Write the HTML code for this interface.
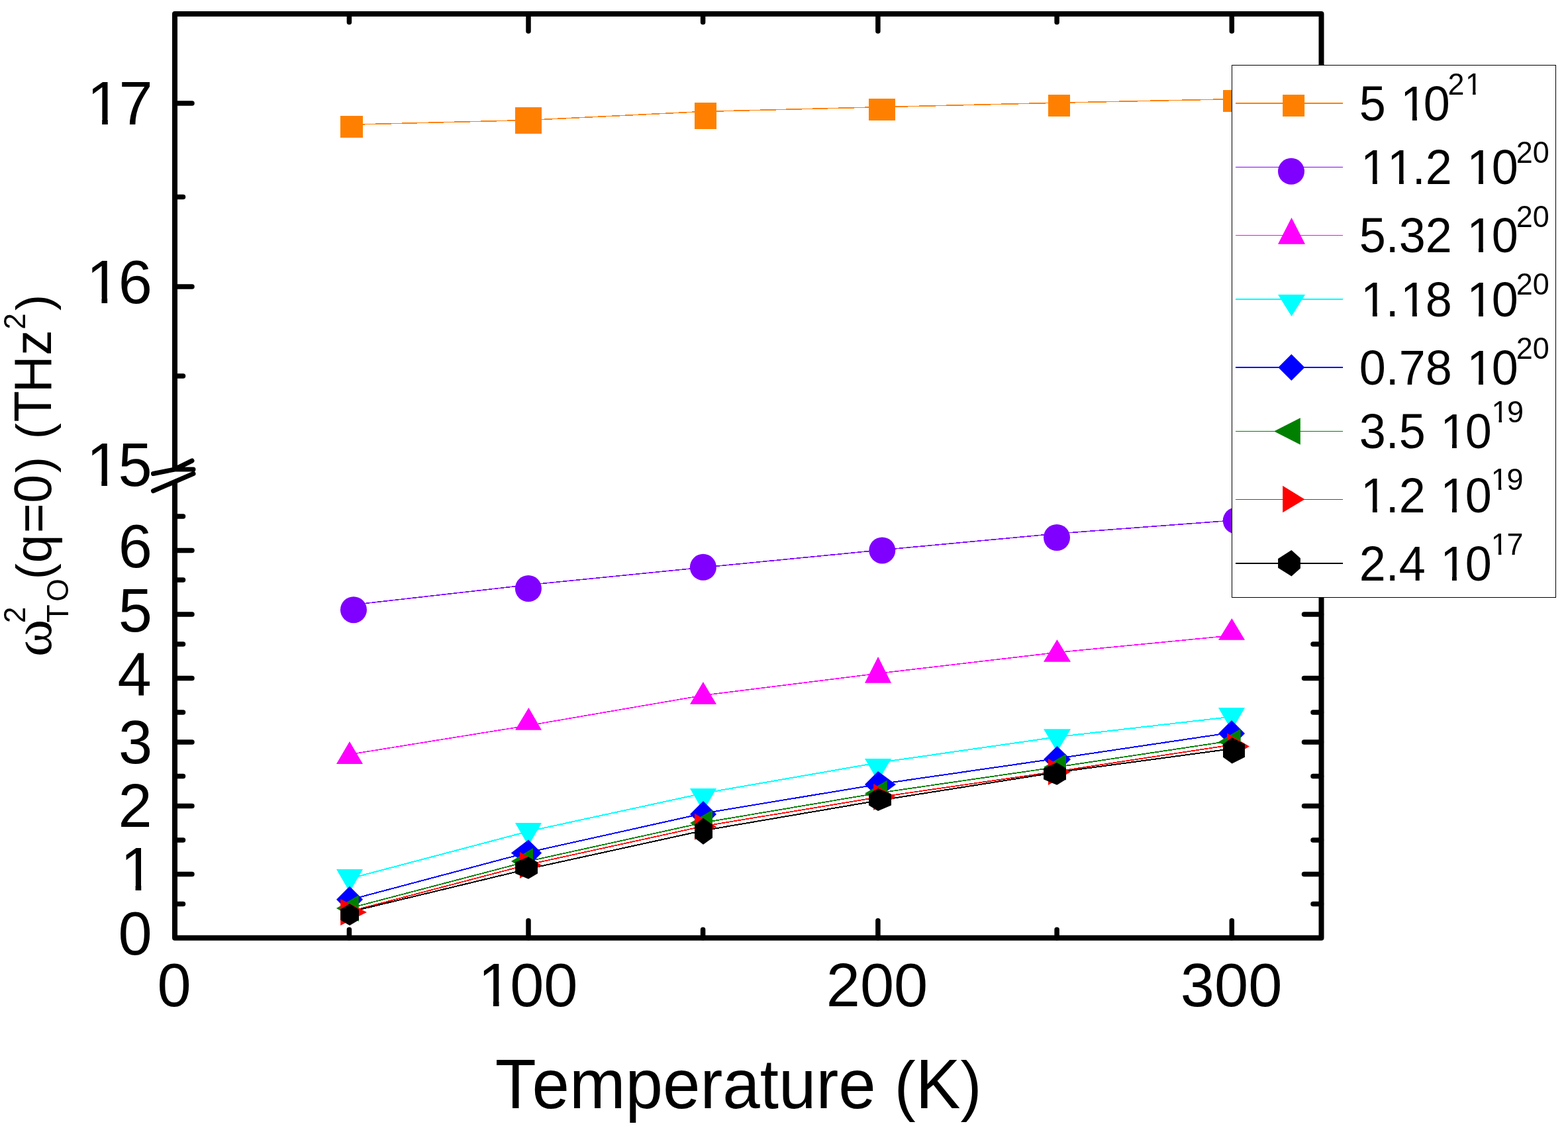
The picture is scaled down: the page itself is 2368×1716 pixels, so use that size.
<!DOCTYPE html>
<html><head><meta charset="utf-8"><title>chart</title>
<style>html,body{margin:0;padding:0;background:#fff;}svg{display:block;}</style>
</head><body>
<svg width="2368" height="1716" viewBox="0 0 2368 1716">
<rect width="2368" height="1716" fill="#fff"/>
<g shape-rendering="crispEdges">
<polyline points="527.4,188.3 798.0,181.5 1061.6,168.5 1325.9,161.8 1596.1,155.3 1860.3,149.7" fill="none" stroke="#FF8000" stroke-width="1.6" stroke-linejoin="round"/>
<polyline points="527.4,914.2 798.0,883.5 1061.6,857.2 1325.9,831.3 1596.1,806.1 1860.3,786.2" fill="none" stroke="#8000FF" stroke-width="1.6" stroke-linejoin="round"/>
<polyline points="527.4,1139.7 798.0,1095.9 1061.6,1050.4 1325.9,1017.3 1596.1,985.6 1860.3,960.0" fill="none" stroke="#FF00FF" stroke-width="1.6" stroke-linejoin="round"/>
<polyline points="528.0,1327.2 798.0,1255.8 1062.0,1198.3 1326.0,1152.1 1596.5,1113.2 1860.0,1082.7" fill="none" stroke="#00FFFF" stroke-width="2.0" stroke-linejoin="round"/>
<polyline points="528.0,1359.3 798.0,1287.5 1062.0,1228.7 1326.0,1184.8 1596.5,1145.7 1860.0,1106.6" fill="none" stroke="#0000FF" stroke-width="2.0" stroke-linejoin="round"/>
<polyline points="528.0,1371.9 798.0,1300.9 1062.0,1242.7 1326.0,1198.0 1596.0,1158.7 1860.0,1119.0" fill="none" stroke="#008000" stroke-width="1.8" stroke-linejoin="round"/>
<polyline points="528.0,1376.8 798.0,1305.9 1062.0,1248.1 1326.0,1204.3 1596.0,1165.3 1860.0,1125.2" fill="none" stroke="#FF0000" stroke-width="1.8" stroke-linejoin="round"/>
<polyline points="528.0,1377.6 798.0,1312.5 1062.0,1254.6 1326.0,1209.4 1596.2,1166.6 1860.6,1131.0" fill="none" stroke="#000000" stroke-width="2.0" stroke-linejoin="round"/>
</g>
<rect x="514.0" y="175.0" width="34.0" height="33.0" fill="#FF8000"/>
<rect x="778.0" y="162.0" width="40.0" height="40.0" fill="#FF8000"/>
<rect x="1049.0" y="155.0" width="33.0" height="40.0" fill="#FF8000"/>
<rect x="1312.0" y="149.0" width="40.0" height="33.0" fill="#FF8000"/>
<rect x="1583.0" y="143.0" width="33.0" height="33.0" fill="#FF8000"/>
<rect x="1847.0" y="136.0" width="33.0" height="33.0" fill="#FF8000"/>
<circle cx="534.0" cy="921.2" r="20" fill="#8000FF"/>
<circle cx="797.9" cy="889.0" r="20" fill="#8000FF"/>
<circle cx="1061.9" cy="856.8" r="20" fill="#8000FF"/>
<circle cx="1332.3" cy="831.4" r="20" fill="#8000FF"/>
<circle cx="1596.0" cy="812.0" r="20" fill="#8000FF"/>
<circle cx="1866.8" cy="786.5" r="20" fill="#8000FF"/>
<polygon points="527.9,1119.9 548.0,1154.0 508.0,1154.0" fill="#FF00FF"/>
<polygon points="798.4,1068.9 818.0,1102.7 778.0,1102.7" fill="#FF00FF"/>
<polygon points="1061.9,1029.9 1082.0,1063.7 1042.0,1063.7" fill="#FF00FF"/>
<polygon points="1326.1,992.0 1346.0,1031.7 1306.0,1031.7" fill="#FF00FF"/>
<polygon points="1596.4,966.0 1617.0,999.8 1576.0,999.8" fill="#FF00FF"/>
<polygon points="1860.3,933.9 1880.0,966.8 1840.0,966.8" fill="#FF00FF"/>
<polygon points="508.0,1313.0 548.0,1313.0 528.0,1347.6" fill="#00FFFF"/>
<polygon points="778.0,1243.0 818.0,1243.0 798.0,1277.6" fill="#00FFFF"/>
<polygon points="1042.0,1191.1 1082.0,1191.1 1062.0,1225.7" fill="#00FFFF"/>
<polygon points="1306.0,1146.0 1346.0,1146.0 1326.0,1180.6" fill="#00FFFF"/>
<polygon points="1576.0,1101.2 1617.0,1101.2 1596.5,1135.8" fill="#00FFFF"/>
<polygon points="1840.0,1069.1 1880.0,1069.1 1860.0,1103.7" fill="#00FFFF"/>
<polygon points="528.0,1338.7 548.0,1358.7 528.0,1378.7 508.0,1358.7" fill="#0000FF"/>
<polygon points="798.0,1268.5 818.1,1288.5 798.0,1308.5 771.8,1288.5" fill="#0000FF"/>
<polygon points="1062.0,1210.0 1082.0,1230.0 1062.0,1250.0 1042.0,1230.0" fill="#0000FF"/>
<polygon points="1326.0,1165.0 1353.0,1185.0 1326.0,1205.0 1306.0,1185.0" fill="#0000FF"/>
<polygon points="1596.5,1127.0 1617.0,1147.0 1596.5,1167.0 1576.0,1147.0" fill="#0000FF"/>
<polygon points="1860.0,1088.0 1880.0,1108.0 1860.0,1128.0 1840.0,1108.0" fill="#0000FF"/>
<polygon points="508.0,1372.0 541.8,1352.0 541.8,1392.0" fill="#008000"/>
<polygon points="772.0,1301.0 805.0,1281.0 805.0,1321.0" fill="#008000"/>
<polygon points="1042.0,1243.3 1076.0,1223.3 1076.0,1263.3" fill="#008000"/>
<polygon points="1306.0,1198.4 1339.8,1178.4 1339.8,1218.4" fill="#008000"/>
<polygon points="1576.0,1158.8 1610.0,1138.8 1610.0,1178.8" fill="#008000"/>
<polygon points="1840.0,1120.8 1873.7,1100.8 1873.7,1140.8" fill="#008000"/>
<polygon points="514.2,1358.0 554.0,1378.0 514.2,1398.0" fill="#FF0000"/>
<polygon points="785.0,1287.0 818.0,1307.0 785.0,1327.0" fill="#FF0000"/>
<polygon points="1049.0,1228.8 1082.0,1248.8 1049.0,1268.8" fill="#FF0000"/>
<polygon points="1319.2,1183.9 1352.8,1203.9 1319.2,1223.9" fill="#FF0000"/>
<polygon points="1583.0,1146.1 1617.0,1166.1 1583.0,1186.1" fill="#FF0000"/>
<polygon points="1853.1,1107.4 1886.9,1127.4 1853.1,1147.4" fill="#FF0000"/>
<polygon points="528.0,1365.2 542.0,1373.4 542.0,1389.8 528.0,1398.0 514.2,1389.8 514.2,1373.4" fill="#000000"/>
<polygon points="798.0,1294.2 812.0,1302.6 812.0,1319.4 798.0,1327.8 778.1,1319.4 778.1,1302.6" fill="#000000"/>
<polygon points="1062.0,1235.8 1076.0,1245.8 1076.0,1265.7 1062.0,1275.7 1049.0,1265.7 1049.0,1245.8" fill="#000000"/>
<polygon points="1326.0,1191.0 1346.0,1199.5 1346.0,1216.5 1326.0,1225.0 1312.0,1216.5 1312.0,1199.5" fill="#000000"/>
<polygon points="1596.2,1151.9 1610.0,1160.4 1610.0,1177.3 1596.2,1185.8 1576.0,1177.3 1576.0,1160.4" fill="#000000"/>
<polygon points="1860.6,1114.2 1880.0,1124.1 1880.0,1143.8 1860.6,1153.6 1847.0,1143.8 1847.0,1124.1" fill="#000000"/>
<path d="M264.0 156.0 H290.0 M264.0 297.5 H276.5 M264.0 433.0 H290.0 M264.0 568.0 H276.5 M264.0 1365.4 H276.5 M264.0 1320.4 H290.0 M264.0 1269.0 H276.5 M264.0 1217.5 H290.0 M264.0 1172.4 H276.5 M264.0 1121.0 H290.0 M264.0 1076.0 H276.5 M264.0 1024.4 H290.0 M264.0 973.0 H276.5 M264.0 928.0 H290.0 M264.0 876.0 H276.5 M264.0 831.5 H290.0 M264.0 780.0 H276.5 M1995.5 1365.4 H1983.0 M1995.5 1320.4 H1969.5 M1995.5 1269.0 H1983.0 M1995.5 1217.5 H1969.5 M1995.5 1172.4 H1983.0 M1995.5 1121.0 H1969.5 M1995.5 1076.0 H1983.0 M1995.5 1024.4 H1969.5 M1995.5 973.0 H1983.0 M1995.5 928.0 H1969.5 M527.4 21.0 V33.5 M527.4 1416.7 V1404.2 M798.0 21.0 V47.0 M798.0 1416.7 V1390.7 M1061.6 21.0 V33.5 M1061.6 1416.7 V1404.2 M1325.9 21.0 V47.0 M1325.9 1416.7 V1390.7 M1596.1 21.0 V33.5 M1596.1 1416.7 V1404.2 M1860.3 21.0 V47.0 M1860.3 1416.7 V1390.7" stroke="#000" stroke-width="7.5" stroke-linecap="round" fill="none"/>
<path d="M264.0 21.0 H1995.5 V1416.7 H264.0 Z" stroke="#000" stroke-width="8" fill="none" stroke-linejoin="round"/>
<polygon points="228,716 264,709 295,709 295,716 228,744" fill="#fff"/>
<polygon points="259,709 269,709 269,722 259,727" fill="#fff"/>
<path d="M231.5 715.5 L264 709 L292 709 M264.5 708.5 L290 696 M231.5 741.5 L292 715.5" stroke="#000" stroke-width="7" stroke-linecap="round" stroke-linejoin="round" fill="none"/>
<rect x="1860.5" y="98.5" width="489" height="804" fill="#fff" stroke="#000" stroke-width="1" shape-rendering="crispEdges"/>
<path d="M1866 156.0 H2028" stroke="#FF8000" stroke-width="2" shape-rendering="crispEdges"/>
<path d="M1866 252.5 H2028" stroke="#8000FF" stroke-width="1" shape-rendering="crispEdges"/>
<path d="M1866 355.5 H2028" stroke="#FF00FF" stroke-width="1" shape-rendering="crispEdges"/>
<path d="M1866 452.0 H2028" stroke="#00FFFF" stroke-width="2" shape-rendering="crispEdges"/>
<path d="M1866 555.0 H2028" stroke="#0000FF" stroke-width="2" shape-rendering="crispEdges"/>
<path d="M1866 651.5 H2028" stroke="#008000" stroke-width="1" shape-rendering="crispEdges"/>
<path d="M1866 754.5 H2028" stroke="#FF0000" stroke-width="1" shape-rendering="crispEdges"/>
<path d="M1866 851.0 H2028" stroke="#000000" stroke-width="2" shape-rendering="crispEdges"/>
<rect x="1937.1" y="143" width="33" height="33" fill="#FF8000"/>
<circle cx="1950" cy="258.8" r="20" fill="#8000FF"/>
<polygon points="1950.5,328.8 1971.0,368.8 1930.0,368.8" fill="#FF00FF"/>
<polygon points="1930.0,445.0 1971.0,445.0 1950.5,477.8" fill="#00FFFF"/>
<polygon points="1950.3,535.0 1970.4,555.0 1950.3,575.0 1930.3,555.0" fill="#0000FF"/>
<polygon points="1924.0,651.4 1963.8,631.2 1963.8,671.8" fill="#008000"/>
<polygon points="1937.1,733.8 1970.4,754.2 1937.1,774.3" fill="#FF0000"/>
<polygon points="1950.4,830.9 1963.9,843.2 1963.9,858.6 1950.4,870.5 1930.1,857.8 1930.1,844.1" fill="#000000"/>
<clipPath id="c1"><rect x="2.38" y="-108.00" width="35.14" height="158.40"/><rect x="60.05" y="-108.00" width="42.40" height="101.08"/><rect x="80.26" y="-108.00" width="6.86" height="115.20"/><rect x="99.40" y="-108.00" width="35.42" height="158.40"/></clipPath><text transform="translate(2052.70 182.40) scale(1.0000 1.0350)" font-family='"Liberation Sans", Arial, Helvetica, sans-serif' fill="#000" clip-path="url(#c1)"><tspan x="0.00 40.04 62.40 97.09" y="0.00" font-size="72.00">5 10</tspan></text>
<clipPath id="c2"><rect x="1.76" y="-67.50" width="21.50" height="99.00"/><rect x="25.03" y="-67.50" width="26.50" height="62.59"/><rect x="37.56" y="-67.50" width="4.48" height="72.00"/></clipPath><text transform="translate(2186.53 142.90) scale(1.0000 1.0350)" font-family='"Liberation Sans", Arial, Helvetica, sans-serif' fill="#000" clip-path="url(#c2)"><tspan x="0.00 26.50" y="0.00" font-size="45.00">21</tspan></text>
<clipPath id="c3"><rect x="0.00" y="-108.00" width="42.40" height="101.08"/><rect x="20.21" y="-108.00" width="6.86" height="115.20"/><rect x="40.04" y="-108.00" width="42.40" height="101.08"/><rect x="60.25" y="-108.00" width="6.86" height="115.20"/><rect x="86.16" y="-108.00" width="7.86" height="158.40"/><rect x="103.21" y="-108.00" width="33.80" height="158.40"/><rect x="160.14" y="-108.00" width="42.40" height="101.08"/><rect x="180.35" y="-108.00" width="6.86" height="115.20"/><rect x="202.49" y="-108.00" width="35.42" height="158.40"/></clipPath><text transform="translate(2052.70 278.00) scale(1.0000 1.0350)" font-family='"Liberation Sans", Arial, Helvetica, sans-serif' fill="#000" clip-path="url(#c3)"><tspan x="2.36 42.40 80.09 100.09 140.13 162.49 200.18" y="0.00" font-size="72.00">11.2 10</tspan></text>
<text transform="translate(2289.82 246.10) scale(1.0000 1.0350)" font-family='"Liberation Sans", Arial, Helvetica, sans-serif' fill="#000"><tspan x="0.00 25.03" y="0.00" font-size="45.00">20</tspan></text>
<clipPath id="c5"><rect x="2.38" y="-108.00" width="35.14" height="158.40"/><rect x="46.12" y="-108.00" width="7.86" height="158.40"/><rect x="62.29" y="-108.00" width="35.14" height="158.40"/><rect x="103.21" y="-108.00" width="33.80" height="158.40"/><rect x="160.14" y="-108.00" width="42.40" height="101.08"/><rect x="180.35" y="-108.00" width="6.86" height="115.20"/><rect x="202.49" y="-108.00" width="35.42" height="158.40"/></clipPath><text transform="translate(2052.70 381.10) scale(1.0000 1.0350)" font-family='"Liberation Sans", Arial, Helvetica, sans-serif' fill="#000" clip-path="url(#c5)"><tspan x="0.00 40.04 60.05 100.09 140.13 162.49 200.18" y="0.00" font-size="72.00">5.32 10</tspan></text>
<text transform="translate(2289.82 343.00) scale(1.0000 1.0350)" font-family='"Liberation Sans", Arial, Helvetica, sans-serif' fill="#000"><tspan x="0.00 25.03" y="0.00" font-size="45.00">20</tspan></text>
<clipPath id="c7"><rect x="0.00" y="-108.00" width="42.40" height="101.08"/><rect x="20.21" y="-108.00" width="6.86" height="115.20"/><rect x="46.12" y="-108.00" width="7.86" height="158.40"/><rect x="60.05" y="-108.00" width="42.40" height="101.08"/><rect x="80.26" y="-108.00" width="6.86" height="115.20"/><rect x="102.72" y="-108.00" width="34.79" height="158.40"/><rect x="160.14" y="-108.00" width="42.40" height="101.08"/><rect x="180.35" y="-108.00" width="6.86" height="115.20"/><rect x="202.49" y="-108.00" width="35.42" height="158.40"/></clipPath><text transform="translate(2052.70 477.80) scale(1.0000 1.0350)" font-family='"Liberation Sans", Arial, Helvetica, sans-serif' fill="#000" clip-path="url(#c7)"><tspan x="2.36 40.04 62.40 100.09 140.13 162.49 200.18" y="0.00" font-size="72.00">1.18 10</tspan></text>
<text transform="translate(2289.82 445.40) scale(1.0000 1.0350)" font-family='"Liberation Sans", Arial, Helvetica, sans-serif' fill="#000"><tspan x="0.00 25.03" y="0.00" font-size="45.00">20</tspan></text>
<clipPath id="c9"><rect x="2.31" y="-108.00" width="35.42" height="158.40"/><rect x="46.12" y="-108.00" width="7.86" height="158.40"/><rect x="63.24" y="-108.00" width="33.73" height="158.40"/><rect x="102.72" y="-108.00" width="34.79" height="158.40"/><rect x="160.14" y="-108.00" width="42.40" height="101.08"/><rect x="180.35" y="-108.00" width="6.86" height="115.20"/><rect x="202.49" y="-108.00" width="35.42" height="158.40"/></clipPath><text transform="translate(2052.70 581.30) scale(1.0000 1.0350)" font-family='"Liberation Sans", Arial, Helvetica, sans-serif' fill="#000" clip-path="url(#c9)"><tspan x="0.00 40.04 60.05 100.09 140.13 162.49 200.18" y="0.00" font-size="72.00">0.78 10</tspan></text>
<text transform="translate(2289.82 542.00) scale(1.0000 1.0350)" font-family='"Liberation Sans", Arial, Helvetica, sans-serif' fill="#000"><tspan x="0.00 25.03" y="0.00" font-size="45.00">20</tspan></text>
<clipPath id="c11"><rect x="2.24" y="-108.00" width="35.14" height="158.40"/><rect x="46.12" y="-108.00" width="7.86" height="158.40"/><rect x="62.43" y="-108.00" width="35.14" height="158.40"/><rect x="120.09" y="-108.00" width="42.40" height="101.08"/><rect x="140.30" y="-108.00" width="6.86" height="115.20"/><rect x="162.45" y="-108.00" width="35.42" height="158.40"/></clipPath><text transform="translate(2052.70 676.80) scale(1.0000 1.0350)" font-family='"Liberation Sans", Arial, Helvetica, sans-serif' fill="#000" clip-path="url(#c11)"><tspan x="0.00 40.04 60.05 100.09 122.45 160.14" y="0.00" font-size="72.00">3.5 10</tspan></text>
<clipPath id="c12"><rect x="0.00" y="-67.50" width="26.50" height="62.59"/><rect x="12.54" y="-67.50" width="4.48" height="72.00"/><rect x="26.64" y="-67.50" width="21.79" height="99.00"/></clipPath><text transform="translate(2250.98 637.80) scale(1.0000 1.0350)" font-family='"Liberation Sans", Arial, Helvetica, sans-serif' fill="#000" clip-path="url(#c12)"><tspan x="1.47 25.03" y="0.00" font-size="45.00">19</tspan></text>
<clipPath id="c13"><rect x="0.00" y="-108.00" width="42.40" height="101.08"/><rect x="20.21" y="-108.00" width="6.86" height="115.20"/><rect x="46.12" y="-108.00" width="7.86" height="158.40"/><rect x="63.17" y="-108.00" width="33.80" height="158.40"/><rect x="120.09" y="-108.00" width="42.40" height="101.08"/><rect x="140.30" y="-108.00" width="6.86" height="115.20"/><rect x="162.45" y="-108.00" width="35.42" height="158.40"/></clipPath><text transform="translate(2052.70 773.60) scale(1.0000 1.0350)" font-family='"Liberation Sans", Arial, Helvetica, sans-serif' fill="#000" clip-path="url(#c13)"><tspan x="2.36 40.04 60.05 100.09 122.45 160.14" y="0.00" font-size="72.00">1.2 10</tspan></text>
<clipPath id="c14"><rect x="0.00" y="-67.50" width="26.50" height="62.59"/><rect x="12.54" y="-67.50" width="4.48" height="72.00"/><rect x="26.64" y="-67.50" width="21.79" height="99.00"/></clipPath><text transform="translate(2250.38 740.30) scale(1.0000 1.0350)" font-family='"Liberation Sans", Arial, Helvetica, sans-serif' fill="#000" clip-path="url(#c14)"><tspan x="1.47 25.03" y="0.00" font-size="45.00">19</tspan></text>
<clipPath id="c15"><rect x="3.12" y="-108.00" width="33.80" height="158.40"/><rect x="46.12" y="-108.00" width="7.86" height="158.40"/><rect x="61.20" y="-108.00" width="37.28" height="158.40"/><rect x="120.09" y="-108.00" width="42.40" height="101.08"/><rect x="140.30" y="-108.00" width="6.86" height="115.20"/><rect x="162.45" y="-108.00" width="35.42" height="158.40"/></clipPath><text transform="translate(2052.70 876.50) scale(1.0000 1.0350)" font-family='"Liberation Sans", Arial, Helvetica, sans-serif' fill="#000" clip-path="url(#c15)"><tspan x="0.00 40.04 60.05 100.09 122.45 160.14" y="0.00" font-size="72.00">2.4 10</tspan></text>
<clipPath id="c16"><rect x="0.00" y="-67.50" width="26.50" height="62.59"/><rect x="12.54" y="-67.50" width="4.48" height="72.00"/><rect x="26.83" y="-67.50" width="21.46" height="99.00"/></clipPath><text transform="translate(2250.38 837.90) scale(1.0000 1.0350)" font-family='"Liberation Sans", Arial, Helvetica, sans-serif' fill="#000" clip-path="url(#c16)"><tspan x="1.47 25.03" y="0.00" font-size="45.00">17</tspan></text>
<clipPath id="c17"><rect x="0.00" y="-138.00" width="54.18" height="129.55"/><rect x="25.89" y="-138.00" width="8.63" height="147.20"/><rect x="55.38" y="-138.00" width="42.82" height="202.40"/></clipPath><text transform="translate(128.29 187.54) scale(1.0000 1.0125)" font-family='"Liberation Sans", Arial, Helvetica, sans-serif' fill="#000" clip-path="url(#c17)"><tspan x="3.01 51.17" y="0.00" font-size="92.00">17</tspan></text>
<clipPath id="c18"><rect x="0.00" y="-138.00" width="54.18" height="129.55"/><rect x="25.89" y="-138.00" width="8.63" height="147.20"/><rect x="55.34" y="-138.00" width="43.45" height="202.40"/></clipPath><text transform="translate(127.61 457.97) scale(1.0000 1.0125)" font-family='"Liberation Sans", Arial, Helvetica, sans-serif' fill="#000" clip-path="url(#c18)"><tspan x="3.01 51.17" y="0.00" font-size="92.00">16</tspan></text>
<clipPath id="c19"><rect x="0.00" y="-138.00" width="54.18" height="129.55"/><rect x="25.89" y="-138.00" width="8.63" height="147.20"/><rect x="54.35" y="-138.00" width="44.62" height="202.40"/></clipPath><text transform="translate(127.43 734.49) scale(1.0000 1.0125)" font-family='"Liberation Sans", Arial, Helvetica, sans-serif' fill="#000" clip-path="url(#c19)"><tspan x="3.01 51.17" y="0.00" font-size="92.00">15</tspan></text>
<text transform="translate(178.68 856.97) scale(1.0000 1.0125)" font-family='"Liberation Sans", Arial, Helvetica, sans-serif' fill="#000"><tspan x="0.00" y="0.00" font-size="92.00">6</tspan></text>
<text transform="translate(178.70 954.14) scale(1.0000 1.0125)" font-family='"Liberation Sans", Arial, Helvetica, sans-serif' fill="#000"><tspan x="0.00" y="0.00" font-size="92.00">5</tspan></text>
<text transform="translate(177.53 1049.99) scale(1.0000 1.0125)" font-family='"Liberation Sans", Arial, Helvetica, sans-serif' fill="#000"><tspan x="0.00" y="0.00" font-size="92.00">4</tspan></text>
<text transform="translate(178.98 1152.97) scale(1.0000 1.0125)" font-family='"Liberation Sans", Arial, Helvetica, sans-serif' fill="#000"><tspan x="0.00" y="0.00" font-size="92.00">3</tspan></text>
<text transform="translate(178.46 1248.92) scale(1.0000 1.0125)" font-family='"Liberation Sans", Arial, Helvetica, sans-serif' fill="#000"><tspan x="0.00" y="0.00" font-size="92.00">2</tspan></text>
<clipPath id="c25"><rect x="0.00" y="-138.00" width="54.18" height="129.55"/><rect x="25.89" y="-138.00" width="8.63" height="147.20"/></clipPath><text transform="translate(178.72 1345.44) scale(1.0000 1.0125)" font-family='"Liberation Sans", Arial, Helvetica, sans-serif' fill="#000" clip-path="url(#c25)"><tspan x="3.01" y="0.00" font-size="92.00">1</tspan></text>
<text transform="translate(178.43 1441.97) scale(1.0000 1.0125)" font-family='"Liberation Sans", Arial, Helvetica, sans-serif' fill="#000"><tspan x="0.00" y="0.00" font-size="92.00">0</tspan></text>
<text transform="translate(237.42 1520.07) scale(1.0000 1.0125)" font-family='"Liberation Sans", Arial, Helvetica, sans-serif' fill="#000"><tspan x="0.00" y="0.00" font-size="92.00">0</tspan></text>
<clipPath id="c28"><rect x="0.00" y="-138.00" width="54.18" height="129.55"/><rect x="25.89" y="-138.00" width="8.63" height="147.20"/><rect x="54.26" y="-138.00" width="44.98" height="202.40"/><rect x="105.43" y="-138.00" width="44.98" height="202.40"/></clipPath><text transform="translate(719.02 1519.92) scale(1.0000 1.0125)" font-family='"Liberation Sans", Arial, Helvetica, sans-serif' fill="#000" clip-path="url(#c28)"><tspan x="3.01 51.17 102.33" y="0.00" font-size="92.00">100</tspan></text>
<text transform="translate(1247.73 1519.92) scale(1.0000 1.0125)" font-family='"Liberation Sans", Arial, Helvetica, sans-serif' fill="#000"><tspan x="0.00 51.17 102.33" y="0.00" font-size="92.00">200</tspan></text>
<text transform="translate(1782.80 1519.92) scale(1.0000 1.0125)" font-family='"Liberation Sans", Arial, Helvetica, sans-serif' fill="#000"><tspan x="0.00 51.17 102.33" y="0.00" font-size="92.00">300</tspan></text>
<text transform="translate(747.72 1673.90) scale(1.0000 1.0400)" font-family='"Liberation Sans", Arial, Helvetica, sans-serif' fill="#000"><tspan x="0.00 55.90 112.35 196.90 253.35 309.80 343.60 400.05 428.25 484.70 518.50 574.95" y="0.00" font-size="101.50">Temperature </tspan><tspan x="603.15" y="0.00" font-size="96.00">(</tspan><tspan x="635.12" y="0.00" font-size="101.50">K</tspan><tspan x="702.82" y="0.00" font-size="96.00">)</tspan></text>
<g transform="translate(77.3 993) rotate(-90)"><text transform="translate(0.95 -0.11) scale(1.0200 0.9930)" font-family='"Liberation Serif", "Times New Roman", Times, serif' fill="#000"><tspan x="0.00" y="0.00" font-size="84.00">ω</tspan></text><text transform="translate(51.78 -39.40) scale(1.0000 1.0350)" font-family='"Liberation Sans", Arial, Helvetica, sans-serif' fill="#000"><tspan x="0.00" y="0.00" font-size="44.20">2</tspan></text><text transform="translate(52.40 25.50) scale(1.0000 1.0350)" font-family='"Liberation Sans", Arial, Helvetica, sans-serif' fill="#000"><tspan x="0.00 31.80" y="0.00" font-size="44.70">TO</tspan></text><text transform="translate(0.00 0.00) scale(1.0000 1.0350)" font-family='"Liberation Sans", Arial, Helvetica, sans-serif' fill="#000"><tspan x="117.70" y="0.00" font-size="72.50">(</tspan><tspan x="142.67 187.64 233.29" y="0.00" font-size="77.00">q=0</tspan><tspan x="278.88" y="0.00" font-size="72.50">)</tspan><tspan x="305.00" y="0.00" font-size="77.00"> </tspan><tspan x="329.80" y="0.00" font-size="72.50">(</tspan><tspan x="355.47 399.88 455.88" y="0.00" font-size="77.00">THz</tspan></text><text transform="translate(495.28 -39.40) scale(1.0000 1.0350)" font-family='"Liberation Sans", Arial, Helvetica, sans-serif' fill="#000"><tspan x="0.00" y="0.00" font-size="44.20">2</tspan></text><text transform="translate(523.78 0.00) scale(1.0000 1.0350)" font-family='"Liberation Sans", Arial, Helvetica, sans-serif' fill="#000"><tspan x="0.00" y="0.00" font-size="72.50">)</tspan></text></g>
</svg>
</body></html>
